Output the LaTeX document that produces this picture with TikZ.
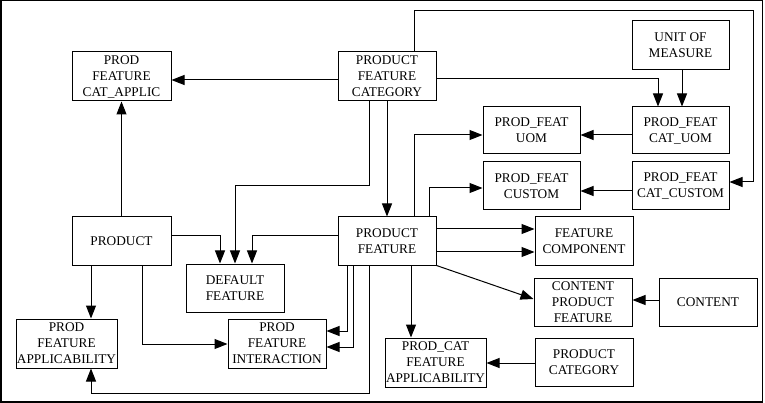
\documentclass[tikz,border=0pt]{standalone}
\usepackage{fontspec}
\setmainfont{Liberation Serif}
\usetikzlibrary{arrows.meta}
\begin{document}
\begin{tikzpicture}[x=1pt,y=-1pt,
  box/.style={draw,line width=1pt,inner sep=0pt,align=center,minimum width=98pt,minimum height=48pt,font=\fontsize{13.3}{16}\selectfont},
  conn/.style={line width=1pt,-{Triangle[length=13pt,width=10pt]}},
  plain/.style={line width=1pt}]
\useasboundingbox (0,0) rectangle (765,403);
\draw[line width=1.5pt] (0.75,0.75) rectangle (762.5,401.8);
% boxes
\node[box,minimum width=99pt,minimum height=49pt] (capplic) at (121.5,76.5) {PROD\\FEATURE\\CAT\_APPLIC};
\node[box,minimum height=49pt] (pfc) at (387,76.5) {PRODUCT\\FEATURE\\CATEGORY};
\node[box,minimum width=97pt,minimum height=49pt] (uom) at (680.5,45.5) {UNIT OF\\MEASURE};
\node[box,minimum width=97pt,minimum height=47pt] (pfuom) at (531.5,130.5) {PROD\_FEAT\\UOM};
\node[box,minimum width=97pt,minimum height=47pt] (catuom) at (680.5,130.5) {PROD\_FEAT\\CAT\_UOM};
\node[box,minimum width=97pt] (pfcustom) at (531.5,186) {PROD\_FEAT\\CUSTOM};
\node[box,minimum width=97pt] (catcustom) at (680.5,186) {PROD\_FEAT\\CAT\_CUSTOM};
\node[box,minimum width=99pt] (product) at (121.5,241) {PRODUCT};
\node[box] (pf) at (387,241) {PRODUCT\\FEATURE};
\node[box] (default) at (235,288) {DEFAULT\\FEATURE};
\node[box,minimum width=101pt,minimum height=49pt] (applic) at (66.5,343.5) {PROD\\FEATURE\\APPLICABILITY};
\node[box,minimum height=49pt] (inter) at (277,343.5) {PROD\\FEATURE\\INTERACTION};
\node[box] (fcomp) at (584,241) {FEATURE\\COMPONENT};
\node[box] (cpf) at (583,302) {CONTENT\\PRODUCT\\FEATURE};
\node[box] (content) at (708,302) {CONTENT};
\node[box,minimum width=101pt,minimum height=49pt] (pcfa) at (435.5,362.5) {PROD\_CAT\\FEATURE\\APPLICABILITY};
\node[box] (pcat) at (584,362) {PRODUCT\\CATEGORY};
% connectors
\draw[conn] (pfc.west |- 0,80) -- (capplic.east |- 0,80);
\draw[conn] (product.north) -- (capplic.south);
\draw[conn] (369,0 |- pfc.south) -- (369,186) -| (default.north);
\draw[conn] (pfc.south) -- (pf.north);
\draw[conn] (product.east |- 0,236) -| (220,0 |- default.north);
\draw[conn] (pf.west |- 0,236) -| (252,0 |- default.north);
\draw[conn] (91,0 |- product.south) -- (91,0 |- applic.north);
\draw[conn] (142,0 |- product.south) |- (inter.west |- 0,344);
\draw[conn] (347,0 |- pf.south) |- (inter.east |- 0,331);
\draw[conn] (353,0 |- pf.south) |- (inter.east |- 0,347);
\draw[conn] (369,0 |- pf.south) |- (91,393) -- (91,0 |- applic.south);
\draw[conn] (411,0 |- pf.south) -- (411,0 |- pcfa.north);
\draw[conn] (pf.east |- 0,229) -- (fcomp.west |- 0,229);
\draw[conn] (pf.east |- 0,252) -- (fcomp.west |- 0,252);
\draw[conn] (pf.south east) -- (cpf.west |- 0,299);
\draw[conn] (content.west |- 0,300) -- (cpf.east |- 0,300);
\draw[conn] (pcat.west |- 0,363) -- (pcfa.east |- 0,363);
\draw[conn] (pfc.east |- 0,79) -| (658,0 |- catuom.north);
\draw[conn] (682,0 |- uom.south) -- (682,0 |- catuom.north);
\draw[conn] (catuom.west |- 0,135) -- (pfuom.east |- 0,135);
\draw[conn] (catcustom.west |- 0,191) -- (pfcustom.east |- 0,191);
\draw[conn] (414,0 |- pfc.north) |- (753,11) |- (catcustom.east |- 0,182);
\draw[conn] (414,0 |- pf.north) |- (pfuom.west |- 0,135);
\draw[conn] (429,0 |- pf.north) |- (pfcustom.west |- 0,188);
\end{tikzpicture}
\end{document}
